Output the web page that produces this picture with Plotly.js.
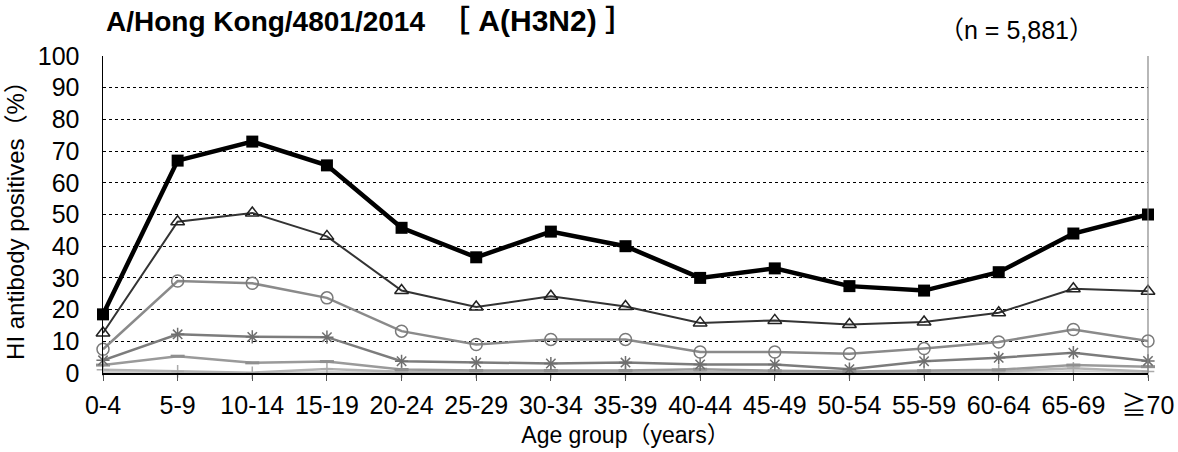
<!DOCTYPE html>
<html>
<head>
<meta charset="utf-8">
<script src="https://cdn.plot.ly/plotly-3.0.1.min.js"></script>
<style>html,body{margin:0;padding:0;background:#fff;}#chart{width:1178px;height:452px;}</style>
</head>
<body>
<div id="chart"></div>
<script>
var categories = ["0-4","5-9","10-14","15-19","20-24","25-29","30-34","35-39","40-44","45-49","50-54","55-59","60-64","65-69","≧70"];
var seriesSquare   = [18.5, 67, 73, 65.5, 45.8, 36.5, 44.6, 40, 30, 33, 27.4, 26, 31.8, 44, 50];
var seriesTriangle = [12.6, 47.7, 50.5, 43.1, 26, 20.8, 24.2, 21, 15.8, 16.6, 15.3, 16.1, 19, 26.6, 25.8];
var seriesCircle   = [7.5, 29, 28.3, 23.7, 13.2, 9, 10.6, 10.6, 6.6, 6.6, 6.1, 7.7, 9.8, 13.7, 10.1];
var seriesStar     = [4, 12.2, 11.4, 11.3, 3.7, 3.3, 3.0, 3.3, 2.7, 2.7, 1.2, 3.7, 4.8, 6.4, 3.8];
var seriesDash     = [2.5, 5.3, 3.2, 3.6, 1.1, 0.8, 0.8, 0.8, 1.2, 0.7, 0.5, 0.7, 1.0, 2.5, 2.0];
var seriesPlus     = [1.0, 0.5, 0.1, 1.3, 0.4, 0.3, 0.3, 0.3, 0.5, 0.3, 0.2, 0.3, 0.5, 1.5, 0.5];
var seriesNone     = [0.3, 0.2, 0, 0.3, 0.1, 0.1, 0.1, 0.1, 0.2, 0.1, 0.1, 0.1, 0.2, 0.6, 0.2];

var FONT = "Liberation Sans, Arial, Noto Sans CJK JP, sans-serif";

function tr(y, color, width, symbol, size, mcolor, mwidth) {
  var t = {
    x: categories, y: y, type: "scatter", mode: symbol ? "lines+markers" : "lines",
    line: {color: color, width: width},
    cliponaxis: false, showlegend: false, hoverinfo: "skip"
  };
  if (symbol) {
    t.marker = {symbol: symbol, size: size, color: mcolor || color, line: {color: mcolor || color, width: mwidth || 1.5}};
  }
  return t;
}

var data = [
  tr(seriesNone, "#cfcfcf", 2),
  tr(seriesPlus, "#b4b4b4", 2.5, "cross-thin-open", 9, "#aaaaaa", 1.5),
  tr(seriesDash, "#9a9a9a", 2.5, "line-ew-open", 10, "#8f8f8f", 3),
  tr(seriesStar, "#7c7c7c", 2.5, "asterisk-open", 11, "#6f6f6f", 1.5),
  tr(seriesCircle, "#8a8a8a", 2.5, "circle-open", 12, "#7a7a7a", 1.5),
  tr(seriesTriangle, "#333333", 2, "triangle-up-open", 12, "#222222", 1.5),
  {x: categories, y: seriesSquare, type: "scatter", mode: "lines+markers",
   line: {color: "#000", width: 4.5},
   marker: {symbol: "square", size: 12, color: "#000"},
   cliponaxis: false, showlegend: false, hoverinfo: "skip"}
];

var layout = {
  width: 1178, height: 452,
  paper_bgcolor: "#fff", plot_bgcolor: "#fff",
  margin: {l: 103, r: 30, t: 56, b: 79},
  font: {family: FONT, color: "#000", size: 24},
  title: {
    text: "<b>A/Hong Kong/4801/2014<span style='font-size:30px'>　［ A(H3N2) ］</span></b>",
    font: {family: FONT, size: 28, color: "#000"},
    xref: "container", yref: "container",
    x: 106/1178, xanchor: "left", y: 1 - 21/452, yanchor: "middle"
  },
  xaxis: {
    type: "category", range: [0, 14],
    showgrid: false, zeroline: false,
    showline: true, linecolor: "#000", linewidth: 1.5,
    ticks: "outside", ticklen: 6, tickcolor: "#555", tickwidth: 1,
    tickfont: {family: FONT, size: 25, color: "#000"},
    ticklabelstandoff: 3,
    title: {text: "Age group（years）", font: {family: FONT, size: 23, color: "#000"}, standoff: 9}
  },
  yaxis: {
    range: [0, 100], dtick: 10, tick0: 0,
    showgrid: true, gridcolor: "#000", griddash: "dot", gridwidth: 1,
    zeroline: false,
    showline: true, linecolor: "#000", linewidth: 1.5,
    ticks: "", tickfont: {family: FONT, size: 25, color: "#000"},
    ticklabelstandoff: 17,
    title: {text: "HI antibody positives（%）", font: {family: FONT, size: 24, color: "#000"}, standoff: 6}
  },
  shapes: [
    {type: "line", xref: "paper", yref: "paper", x0: 1, x1: 1, y0: 0, y1: 1, line: {color: "#888", width: 1.2}}
  ],
  annotations: [
    {text: "（n = 5,881）", xref: "paper", yref: "paper", x: 1, xanchor: "right", xshift: -52,
     y: 1 + 26/317, yanchor: "middle", showarrow: false, font: {family: FONT, size: 25, color: "#000"}}
  ]
};

Plotly.newPlot("chart", data, layout, {displayModeBar: false, staticPlot: true});
</script>
</body>
</html>
